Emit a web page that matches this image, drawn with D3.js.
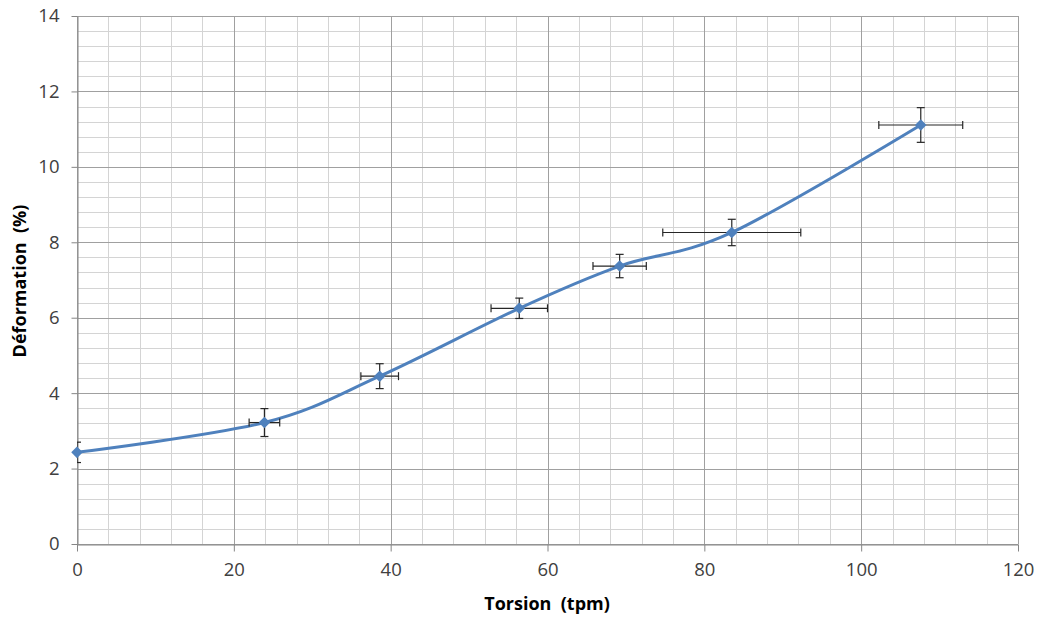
<!DOCTYPE html>
<html>
<head>
<meta charset="utf-8">
<script src="https://cdn.jsdelivr.net/npm/d3@7"></script>
<style>
  body { margin: 0; background: #fff; }
  text { font-family: "Open Sans", sans-serif; }
</style>
</head>
<body>
<svg id="chart" width="1040" height="617"></svg>
<script>
var torsion = [0, 23.9, 38.6, 56.4, 69.2, 83.5, 107.6];
var deformation = [2.43, 3.22, 4.45, 6.25, 7.37, 8.26, 11.11];
var errTorsion = [0, 1.95, 2.4, 3.6, 3.4, 8.8, 5.35];
var errDeformation = [0.27, 0.37, 0.33, 0.27, 0.31, 0.35, 0.46];
var xTicks = [0, 20, 40, 60, 80, 100, 120];
var yTicks = [0, 2, 4, 6, 8, 10, 12, 14];

function drawChart() {
  var svg = d3.select("#chart");
  var plotLeft = 77, plotRight = 1018, plotTop = 16, plotBottom = 544;

  var x = d3.scaleLinear().domain([0, 120]).range([plotLeft, plotRight]);
  var y = d3.scaleLinear().domain([0, 14]).range([plotBottom, plotTop]);

  var grid = svg.append("g");
  // minor grid
  grid.selectAll(".vmin").data(d3.range(0, 121, 4)).enter().append("line")
    .attr("x1", function(d){ return Math.round(x(d)) + 0.5; })
    .attr("x2", function(d){ return Math.round(x(d)) + 0.5; })
    .attr("y1", plotTop).attr("y2", plotBottom)
    .attr("stroke", "#d4d4d4").attr("stroke-width", 1);
  grid.selectAll(".hmin").data(d3.range(0, 35.5).map(function(i){ return i * 0.4; })).enter().append("line")
    .attr("y1", function(d){ return Math.round(y(d)) + 0.5; })
    .attr("y2", function(d){ return Math.round(y(d)) + 0.5; })
    .attr("x1", plotLeft).attr("x2", plotRight)
    .attr("stroke", "#d4d4d4").attr("stroke-width", 1);
  // major grid
  grid.selectAll(".vmaj").data(xTicks).enter().append("line")
    .attr("x1", function(d){ return Math.round(x(d)) + 0.5; })
    .attr("x2", function(d){ return Math.round(x(d)) + 0.5; })
    .attr("y1", plotTop).attr("y2", plotBottom)
    .attr("stroke", "#a0a0a0").attr("stroke-width", 1);
  grid.selectAll(".hmaj").data(yTicks).enter().append("line")
    .attr("y1", function(d){ return Math.round(y(d)) + 0.5; })
    .attr("y2", function(d){ return Math.round(y(d)) + 0.5; })
    .attr("x1", plotLeft).attr("x2", plotRight)
    .attr("stroke", "#a0a0a0").attr("stroke-width", 1);

  // axes
  var xAxis = d3.axisBottom(x).tickValues(xTicks).tickSize(7).tickPadding(11).tickSizeOuter(0);
  var yAxis = d3.axisLeft(y).tickValues(yTicks).tickSize(6).tickPadding(12).tickSizeOuter(0);
  var gx = svg.append("g").attr("transform", "translate(0," + (Math.round(plotBottom) + 0.5) + ")").call(xAxis);
  var gy = svg.append("g").attr("transform", "translate(" + (Math.round(plotLeft) + 0.5) + ",0)").call(yAxis);
  [gx, gy].forEach(function(g){
    g.attr("font-size", null).attr("font-family", null);
    g.selectAll("path, line").attr("stroke", "#868686");
    g.selectAll("text").attr("fill", "#404040").style("font-size", "18.5px");
  });

  // data
  var pts = torsion.map(function(t, i){
    return {x: t, y: deformation[i], ex: errTorsion[i], ey: errDeformation[i]};
  });

  svg.append("clipPath").attr("id", "plotclip").append("rect")
    .attr("x", plotLeft).attr("y", plotTop)
    .attr("width", plotRight - plotLeft).attr("height", plotBottom - plotTop);

  var line = d3.line()
    .x(function(d){ return x(d.x); })
    .y(function(d){ return y(d.y); })
    .curve(d3.curveCatmullRom.alpha(0));

  svg.append("path").datum(pts)
    .attr("d", line)
    .attr("fill", "none")
    .attr("stroke", "#4f81bd")
    .attr("stroke-width", 3);

  // error bars
  var eb = svg.append("g").attr("clip-path", "url(#plotclip)")
    .attr("stroke", "#262626").attr("stroke-width", 1.2);
  var cap = 4;
  pts.forEach(function(d){
    var cx = x(d.x), cy = y(d.y);
    var y1 = y(d.y + d.ey), y2 = y(d.y - d.ey);
    eb.append("line").attr("x1", cx).attr("x2", cx).attr("y1", y1).attr("y2", y2);
    eb.append("line").attr("x1", cx - cap).attr("x2", cx + cap).attr("y1", y1).attr("y2", y1);
    eb.append("line").attr("x1", cx - cap).attr("x2", cx + cap).attr("y1", y2).attr("y2", y2);
    if (d.ex > 0) {
      var x1 = x(d.x - d.ex), x2 = x(d.x + d.ex);
      eb.append("line").attr("x1", x1).attr("x2", x2).attr("y1", cy).attr("y2", cy);
      eb.append("line").attr("x1", x1).attr("x2", x1).attr("y1", cy - cap).attr("y2", cy + cap);
      eb.append("line").attr("x1", x2).attr("x2", x2).attr("y1", cy - cap).attr("y2", cy + cap);
    }
  });

  // markers (diamonds)
  svg.selectAll(".mk").data(pts).enter().append("path")
    .attr("d", d3.symbol().type(d3.symbolDiamond2).size(85))
    .attr("transform", function(d){ return "translate(" + x(d.x) + "," + y(d.y) + ")"; })
    .attr("fill", "#4f81bd");

  // axis titles
  svg.append("text")
    .attr("x", 547).attr("y", 610)
    .attr("text-anchor", "middle")
    .style("font-size", "18px").style("font-weight", "bold")
    .attr("fill", "#000")
    .attr("xml:space", "preserve")
    .text("Torsion  (tpm)");

  svg.append("text")
    .attr("transform", "translate(26,281) rotate(-90)")
    .attr("text-anchor", "middle")
    .style("font-size", "18px").style("font-weight", "bold")
    .attr("fill", "#000")
    .attr("xml:space", "preserve")
    .text("Déformation  (%)");
}

drawChart();
</script>
</body>
</html>
